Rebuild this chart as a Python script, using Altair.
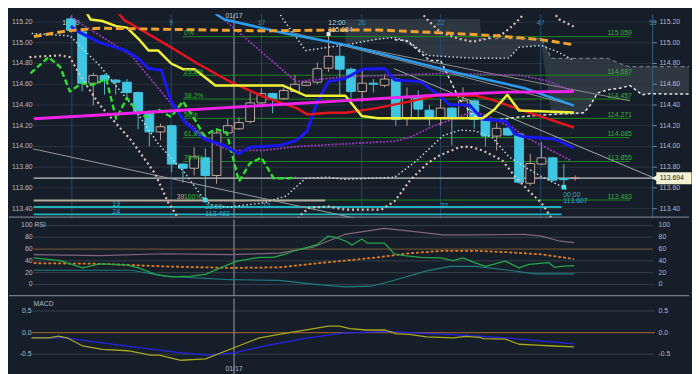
import altair as alt
import pandas as pd

BG = "#151e29"
FONT = "Liberation Sans"

# ---------------- candles (index 0..45) ----------------
candle_idx = list(range(46))
opens = [115.23, 115.105, 114.61, 114.685, 114.64, 114.62, 114.52, 114.32, 114.14, 114.20,
         113.83, 113.79, 113.89, 113.72, 114.13, 114.17, 114.24, 114.42, 114.51, 114.46,
         114.53, 114.59, 114.62, 114.755, 114.87, 114.745, 114.53, 114.61, 114.59, 114.65,
         114.27, 114.48, 114.35, 114.27, 114.37, 114.28, 114.44, 114.25, 114.10, 114.175,
         114.12, 113.645, 113.83, 113.89, 113.69, 113.694]
highs = [115.25, 115.12, 114.71, 114.70, 114.65, 114.65, 114.53, 114.35, 114.22, 114.21,
         113.84, 113.99, 113.98, 114.15, 114.27, 114.28, 114.52, 114.56, 114.52, 114.57,
         114.69, 114.63, 114.81, 115.084, 114.98, 114.76, 114.75, 114.65, 114.70, 114.66,
         114.57, 114.54, 114.40, 114.46, 114.38, 114.57, 114.45, 114.26, 114.23, 114.19,
         114.13, 113.93, 114.04, 113.90, 113.83, 113.72]
lows = [115.10, 114.53, 114.395, 114.50, 114.50, 114.47, 114.165, 114.00, 114.06, 113.75,
        113.65, 113.72, 113.483, 113.64, 114.11, 114.16, 114.22, 114.40, 114.32, 114.45,
        114.52, 114.58, 114.60, 114.72, 114.48, 114.45, 114.43, 114.52, 114.57, 114.20,
        114.20, 114.26, 114.20, 114.20, 114.01, 114.26, 114.17, 114.00, 113.96, 114.10,
        113.64, 113.62, 113.82, 113.66, 113.607, 113.67]
closes = [115.12, 114.61, 114.685, 114.64, 114.62, 114.52, 114.32, 114.14, 114.19, 113.83,
          113.79, 113.90, 113.72, 114.13, 114.20, 114.23, 114.42, 114.51, 114.46, 114.54,
          114.60, 114.62, 114.75, 114.87, 114.745, 114.53, 114.61, 114.60, 114.65, 114.26,
          114.47, 114.36, 114.27, 114.37, 114.27, 114.44, 114.26, 114.10, 114.175, 114.11,
          113.655, 113.835, 113.89, 113.675, 113.68, 113.694]

# ---------------- overlay lines (x = candle index, y = price) ----------------
orange_i = [-3.3, -0.35, 2.5, 11.3, 17.1, 24.5, 27.4, 33.2, 37.6, 42.0, 44.9]
orange_v = [115.06, 115.115, 115.14, 115.125, 115.115, 115.124, 115.124, 115.095, 115.07, 115.03, 114.98]
red_i = [4.2, 4.75, 6.93, 8.95, 11.3, 14.2, 17.2, 20.1, 21.1, 23.0, 24.5, 27.4, 30.3, 32.6, 36.1, 37.6, 40.5, 44.9]
red_v = [115.29, 115.22, 115.083, 114.956, 114.80, 114.625, 114.48, 114.372, 114.309, 114.325, 114.325,
         114.372, 114.435, 114.49, 114.49, 114.45, 114.34, 114.183]
yellow_i = [1.4, 1.75, 2.8, 4.04, 5.0, 6.05, 6.93, 7.8, 8.95, 10.0, 11.05, 11.9, 12.9, 18.95, 20.96, 24.5,
            25.96, 27.4, 36.75, 37.8, 38.95, 40.0, 44.9]
yellow_v = [115.29, 115.225, 115.21, 115.16, 115.146, 115.036, 114.925, 114.925, 114.8, 114.745, 114.745,
            114.672, 114.587, 114.587, 114.489, 114.489, 114.293, 114.272, 114.272, 114.356, 114.499, 114.347, 114.328]
blue_i = [0.0, 0.53, 2.54, 4.9, 6.05, 6.93, 8.07, 8.95, 10.2, 11.9, 13.7, 15.0, 15.96, 18.6, 20.1, 21.1, 22.0,
          23.0, 24.5, 25.96, 28.0, 28.9, 31.2, 32.6, 33.8, 35.6, 36.75, 38.8, 39.65, 40.4, 43.2, 44.9]
blue_v = [115.16, 115.115, 115.004, 114.925, 114.846, 114.752, 114.736, 114.435, 114.23, 114.072, 114.009,
          113.93, 113.993, 114.009, 114.056, 114.151, 114.435, 114.625, 114.657, 114.745, 114.752, 114.641,
          114.625, 114.514, 114.404, 114.397, 114.262, 114.246, 114.119, 114.094, 114.072, 113.984]
lightblue_i = [12.9, 13.7, 19.2, 24.5, 28.9, 34.7, 40.5, 44.9]
lightblue_v = [115.28, 115.225, 115.09, 114.98, 114.862, 114.704, 114.562, 114.394]
magenta_i = [-3.3, 8.4, 24.5, 33.2, 39.1, 44.9]
magenta_v = [114.268, 114.34, 114.442, 114.499, 114.524, 114.53]
lagging_i = [-3.6, -2.0, -0.96, -0.09, 0.96, 1.93, 3.16, 4.04, 5.0, 6.05, 6.75, 7.8, 8.95, 10.0, 11.05, 11.9,
             12.9, 13.9, 15.0, 15.96, 17.0, 18.1, 19.5, 20.1]
lagging_v = [114.704, 114.862, 114.767, 114.53, 114.609, 114.593, 114.65, 114.268, 114.467, 114.325, 114.283,
             114.356, 114.283, 114.435, 114.262, 114.103, 114.167, 114.135, 113.662, 113.835, 113.892, 113.693,
             113.693, 113.70]
pink_lo_i = [-3.7, -0.96, -0.09, 0.8, 2.54, 5.4, 7.5, 8.7, 9.3, 10.5, 19.5, 20.4, 21.3, 23.0, 24.5, 27.7, 28.9,
             30.3, 31.8, 32.9, 34.7, 35.6, 36.75, 38.5, 39.65, 40.9, 42.0, 42.6, 43.5]
pink_lo_v = [114.862, 114.878, 114.862, 114.688, 114.404, 114.056, 113.74, 113.456, 113.36, 113.1, 113.1,
             113.33, 113.41, 113.42, 113.39, 113.39, 113.472, 113.677, 113.835, 113.914, 113.993, 113.999,
             113.961, 113.866, 113.709, 113.567, 113.456, 113.36, 113.2]
pink_up_i = [31.2, 31.8, 33.0, 34.7, 35.9, 37.0, 38.5, 39.4, 40.0, 40.6, 43.0, 43.6, 44.9]
pink_up_v = [115.30, 115.225, 115.10, 115.036, 115.01, 115.036, 115.083, 115.162, 115.225, 115.30, 115.30,
             115.225, 115.155]
white_lo_i = [-3.5, -0.09, 2.54, 5.4, 7.8, 10.2, 12.0, 12.8, 14.2, 17.2, 19.2, 20.96, 23.0, 24.5, 28.9, 30.9,
              33.2, 34.7, 36.1, 37.6, 39.1, 40.5, 42.0, 43.5, 44.4]
white_lo_v = [115.09, 115.067, 114.783, 114.404, 114.025, 113.74, 113.472, 113.427, 113.415, 113.456, 113.522,
              113.693, 113.703, 113.683, 113.703, 113.866, 114.103, 114.157, 114.15, 114.088, 113.899, 113.804,
              113.709, 113.63, 113.582]
white_up_i = [18.0, 18.95, 20.96, 23.0, 24.5, 27.4, 28.9, 30.3, 31.8, 36.1, 39.1, 40.0, 42.0, 43.5, 44.9]
white_up_v = [115.40, 115.225, 114.925, 114.957, 114.98, 115.036, 115.05, 115.0, 114.878, 114.85, 114.852,
              114.957, 114.973, 114.91, 114.83]
white_fw_i = [28.9, 30.0, 32.0, 33.0, 34.7, 35.9, 36.75, 37.5, 40.5, 42.9, 45.8, 46.4, 47.0, 47.9, 49.0, 49.9,
              51.0, 51.7, 53.7, 55.2]
white_fw_v = [115.03, 115.02, 114.83, 114.83, 114.45, 114.30, 114.26, 114.25, 114.29, 114.309, 114.325, 114.404,
              114.514, 114.546, 114.562, 114.587, 114.499, 114.51, 114.505, 114.505]
purple_up_i = [13.0, 13.7, 20.1, 24.5, 33.2, 40.0, 42.6, 44.9]
purple_up_v = [115.28, 115.22, 114.625, 114.672, 114.704, 114.688, 114.631, 114.524]
purple_lo_i = [0.0, 0.53, 5.4, 10.2, 12.8, 14.2, 17.2, 20.1, 24.5, 28.9, 30.3, 32.4, 34.1, 35.9, 37.0, 39.4,
               40.9, 44.6]
purple_lo_v = [115.26, 115.21, 114.878, 114.246, 114.025, 113.962, 113.962, 113.999, 114.025, 114.05, 114.09,
               114.2, 114.262, 114.34, 114.30, 114.183, 114.072, 113.866]
cloud_i = [24.5, 28.9, 31.8, 36.5, 36.6, 39.1, 40.0, 42.0, 42.9, 44.9, 45.8, 46.4, 47.0, 47.9, 49.0, 49.8, 49.9,
           51.0, 51.7, 55.2]
cloud_top = [115.23, 115.23, 115.23, 115.23, 115.04, 115.04, 115.04, 115.04, 114.85, 114.85, 114.85, 114.85,
             114.85, 114.85, 114.80, 114.77, 114.77, 114.77, 114.77, 114.77]
cloud_bot = [114.98, 115.05, 114.878, 114.85, 114.85, 114.852, 114.957, 114.973, 114.309, 114.30, 114.325,
             114.404, 114.514, 114.546, 114.562, 114.585, 114.587, 114.499, 114.51, 114.505]
diag_a_i, diag_a_v = [-3.4, 27.0], [113.977, 113.27]
diag_b_i, diag_b_v = [19.2, 44.6], [115.115, 114.404]
diag_c_i, diag_c_v = [24.5, 49.9], [114.98, 114.44]
diag_d_i, diag_d_v = [28.86, 52.1], [114.75, 113.694]

fib_levels = [115.059, 114.687, 114.457, 114.271, 114.085, 113.855, 113.483]
fib_pct = ["0%", "23.6%", "38.2%", "50%", "61.8%", "76.4%", "100%"]
fib_right = ["115.059", "114.687", "114.457", "114.271", "114.085", "113.855", "113.483"]
price_ticks = [115.2, 115.0, 114.8, 114.6, 114.4, 114.2, 114.0, 113.8, 113.6, 113.4]
price_tick_labels = ["115.20", "115.00", "114.80", "114.60", "114.40", "114.20", "114.00", "113.80", "113.60", "113.40"]
last_price = 113.694
vline_idx = [0.09, 8.95, 17.02, 25.96, 32.98, 41.93]
vline_labels = ["", "9", "17", "26", "22", "47"]
date_idx = 14.56
axis_idx = 51.93

# ---------------- RSI panel ----------------
rsi_i = [-3.33, -0.96, 1.05, 2.54, 4.91, 6.05, 7.54, 8.95, 10.70, 12.02, 13.33, 14.82, 16.84, 18.07, 19.21,
         20.09, 21.14, 22.02, 22.98, 23.6, 24.47, 25.09, 25.96, 26.49, 27.98, 28.86, 29.74, 31.23, 32.98, 34.12,
         35.0, 36.14, 37.02, 38.77, 40.0, 40.88, 42.63, 43.16, 43.77, 44.91]
rsi_v = [45, 40.5, 28, 35, 33, 28, 17, 13, 14, 17, 28, 39.5, 46, 46, 52, 58, 63, 68, 82, 80, 74, 67, 77, 70, 70,
         52, 49, 46, 45, 40.5, 45, 36, 30.5, 39.5, 28, 34, 37, 29, 30.5, 32]
rsi_ma_i = [-3.33, 2.54, 8.42, 14.21, 18.6, 21.6, 24.47, 27.4, 30.3, 33.2, 36.1, 39.1, 42.0, 44.91]
rsi_ma_v = [36, 35, 30.5, 28, 29, 35, 40.5, 46, 53, 57, 57, 54.5, 51, 43]
rsi_up_i = [-3.33, 2.54, 8.42, 14.21, 18.6, 21.6, 24.47, 27.98, 30.3, 33.2, 36.1, 40.5, 42.0, 43.5, 44.91]
rsi_up_v = [50.5, 49, 52, 50.5, 53, 63, 85, 95, 90.5, 84, 84, 85, 82, 74, 71]
rsi_lo_i = [-3.33, 5.4, 8.42, 14.21, 18.6, 21.6, 24.47, 26.8, 28.86, 31.75, 33.85, 36.1, 39.1, 41.4, 44.91]
rsi_lo_v = [24, 24, 14, 8, 7, 0.5, -4, -3, 7, 23, 30.5, 30.5, 24, 18, 18]
rsi_ticks = [100, 80, 60, 40, 20, 0]

# ---------------- MACD panel ----------------
macd_i = [-3.51, -1.93, -1.14, -0.35, 1.05, 2.81, 5.09, 7.11, 7.89, 9.82, 12.02, 14.56, 16.84, 19.21, 21.14,
          22.98, 23.95, 24.91, 26.32, 28.07, 29.04, 30.18, 31.75, 34.12, 35.26, 36.49, 36.84, 38.77, 40.0, 41.58,
          43.07, 44.91]
macd_v = [-0.12, -0.12, -0.08, -0.12, -0.31, -0.39, -0.42, -0.52, -0.52, -0.64, -0.61, -0.35, -0.12, -0.01, 0.07,
          0.15, 0.15, 0.09, 0.06, 0.06, -0.03, -0.04, -0.10, -0.12, -0.09, -0.11, -0.14, -0.15, -0.27, -0.29,
          -0.31, -0.33]
signal_i = [-3.51, -0.35, 1.58, 5.53, 9.47, 12.19, 14.56, 17.28, 21.14, 24.3, 28.25, 30.96, 34.91, 38.77, 44.91]
signal_v = [-0.12, -0.12, -0.2, -0.33, -0.46, -0.52, -0.47, -0.31, -0.12, -0.01, 0.03, -0.01, -0.06, -0.12, -0.26]
macd_ticks = [0.5, 0.0, -0.5]
macd_tick_labels = ["0.5", "0.0", "-0.5"]

# ---------------- layout ----------------
W = 692
H_MAIN, H_RSI, H_MACD = 207, 78, 81
X_DOMAIN = [-5.526, 55.175]
MAIN_DOM = [113.3137, 115.2758]
RSI_DOM = [-20, 110]
MACD_DOM = [-1.0455, 0.7955]
GRID = "#29343f"
LBL = "#b4bcc4"


def xenc(field="i"):
    return alt.X(f"{field}:Q", scale=alt.Scale(domain=X_DOMAIN, nice=False, zero=False), axis=None)


def yenc(field, dom):
    return alt.Y(f"{field}:Q", scale=alt.Scale(domain=dom, nice=False, zero=False), axis=None)


def series(xv, yv, dom, color, width, dash=None, opacity=1.0):
    df = pd.DataFrame({"i": xv, "v": yv, "k": list(range(len(xv)))})
    props = dict(color=color, strokeWidth=width, clip=True, opacity=opacity, strokeJoin="round")
    if dash is not None:
        props["strokeDash"] = dash
    return alt.Chart(df).mark_line(**props).encode(x=xenc(), y=yenc("v", dom), order="k:Q")


def hrules(levels, x0, x1, dom, color, width, dash=None):
    df = pd.DataFrame({"v": levels, "x0": [x0] * len(levels), "x1": [x1] * len(levels)})
    props = dict(color=color, strokeWidth=width, clip=True)
    if dash is not None:
        props["strokeDash"] = dash
    return alt.Chart(df).mark_rule(**props).encode(x=xenc("x0"), x2=alt.X2("x1:Q"), y=yenc("v", dom))


def vrules(pos, color, width):
    df = pd.DataFrame({"i": pos})
    return alt.Chart(df).mark_rule(color=color, strokeWidth=width).encode(x=xenc())


def texts(xv, yv, labels, dom, color, size=7, align="left", baseline="middle", dy=0):
    df = pd.DataFrame({"i": xv, "v": yv, "t": labels})
    return alt.Chart(df).mark_text(color=color, fontSize=size, font=FONT, align=align,
                                   baseline=baseline, dy=dy).encode(x=xenc(), y=yenc("v", dom), text="t:N")


def axis_text(values, labels, dom, xpix, align, color=LBL, size=7):
    df = pd.DataFrame({"v": values, "t": labels})
    return alt.Chart(df).mark_text(color=color, fontSize=size, font=FONT, align=align,
                                   baseline="middle").encode(x=alt.value(xpix), y=yenc("v", dom), text="t:N")


def separator(h):
    df = pd.DataFrame({"a": [0]})
    return alt.Chart(df).mark_rule(color="#8d98a3", strokeWidth=1).encode(
        x=alt.value(0), x2=alt.value(W), y=alt.value(h - 0.5))


# ---------------- main panel ----------------
cd = pd.DataFrame({"i": candle_idx, "o": opens, "h": highs, "l": lows, "c": closes})
cd["lo"] = cd[["o", "c"]].min(axis=1)
cd["hi"] = cd[["o", "c"]].max(axis=1)
cd["xl"] = cd["i"] - 0.39
cd["xr"] = cd["i"] + 0.39
bear = cd[cd.c < cd.o]
bull = cd[cd.c >= cd.o]

wick_bear = alt.Chart(bear).mark_rule(color="#5fb4cc", strokeWidth=1).encode(
    x=xenc(), y=yenc("l", MAIN_DOM), y2=alt.Y2("h:Q"))
wick_bull = alt.Chart(bull).mark_rule(color="#b89c94", strokeWidth=1).encode(
    x=xenc(), y=yenc("l", MAIN_DOM), y2=alt.Y2("h:Q"))
body_bear = alt.Chart(bear).mark_rect(fill="#3fc6e2", stroke="#3fc6e2", strokeWidth=1).encode(
    x=xenc("xl"), x2=alt.X2("xr:Q"), y=yenc("lo", MAIN_DOM), y2=alt.Y2("hi:Q"))
body_bull = alt.Chart(bull).mark_rect(fill=BG, stroke="#c6a69c", strokeWidth=1).encode(
    x=xenc("xl"), x2=alt.X2("xr:Q"), y=yenc("lo", MAIN_DOM), y2=alt.Y2("hi:Q"))

cloud_df = pd.DataFrame({"i": cloud_i, "u": cloud_top, "b": cloud_bot})
cloud = alt.Chart(cloud_df).mark_area(color="#56606b", opacity=0.4, clip=True).encode(
    x=xenc(), y=yenc("u", MAIN_DOM), y2=alt.Y2("b:Q"))

markers_cyan = alt.Chart(pd.DataFrame({"i": [12, 44], "v": [lows[12], lows[44]]})).mark_square(
    size=22, color="#44e0e8", opacity=1).encode(x=xenc(), y=yenc("v", MAIN_DOM))
marker_high = alt.Chart(pd.DataFrame({"i": [23], "v": [highs[23]]})).mark_square(
    size=16, color="#e8e8e8", opacity=1).encode(x=xenc(), y=yenc("v", MAIN_DOM))

tag = alt.Chart(pd.DataFrame({"x0": [52.25], "x1": [55.4], "y0": [last_price - 0.058],
                              "y1": [last_price + 0.058]})).mark_rect(fill="#f3f1d2").encode(
    x=xenc("x0"), x2=alt.X2("x1:Q"), y=yenc("y0", MAIN_DOM), y2=alt.Y2("y1:Q"))
tag_tip = alt.Chart(pd.DataFrame({"i": [52.1], "v": [last_price]})).mark_point(
    shape="triangle-left", filled=True, size=40, color="#f3f1d2", opacity=1).encode(
    x=xenc(), y=yenc("v", MAIN_DOM))
tag_text = texts([52.55], [last_price], ["113.694"], MAIN_DOM, "#1a1a1a", 7)

main_layers = [
    cloud,
    hrules(price_ticks, -3.33, 51.93, MAIN_DOM, GRID, 1),
    vrules(vline_idx, "#27486a", 1),
    vrules([axis_idx], "#31628c", 1),
    vrules([date_idx], "#9aa2aa", 1),
    hrules(fib_levels, 10.0, 49.9, MAIN_DOM, "#1d8a1d", 1),
    hrules([113.478], -3.33, 22.7, MAIN_DOM, "#b3a99c", 2),
    hrules([113.415, 113.345], -3.33, 43.8, MAIN_DOM, "#22b2ba", 2),
    hrules([last_price], -3.33, 52.1, MAIN_DOM, "#c4c4c4", 1.2),
    hrules(price_ticks, 51.93, 52.3, MAIN_DOM, "#7d8a96", 1),
    texts(vline_idx, [115.19] * len(vline_idx), vline_labels, MAIN_DOM, "#3a86aa", 7, align="center"),
    texts([axis_idx], [115.19], ["53"], MAIN_DOM, "#3a86aa", 7, align="center"),
    texts([0.0], [115.19], ["15:00"], MAIN_DOM, "#c8ced4", 7, align="center"),
    wick_bear, wick_bull, body_bear, body_bull,
    series(diag_a_i, diag_a_v, MAIN_DOM, "#9a9a9a", 1),
    series(diag_b_i, diag_b_v, MAIN_DOM, "#8c8c8c", 1),
    series(diag_c_i, diag_c_v, MAIN_DOM, "#8c8c8c", 1),
    series(diag_d_i, diag_d_v, MAIN_DOM, "#a8a8a8", 1),
    series(cloud_i[4:], cloud_top[4:], MAIN_DOM, "#6e7680", 1.2, dash=[4, 3]),
    series(pink_lo_i, pink_lo_v, MAIN_DOM, "#e6c0b6", 2.2, dash=[2, 3]),
    series(pink_up_i, pink_up_v, MAIN_DOM, "#e6c0b6", 2.2, dash=[2, 3]),
    series(white_lo_i, white_lo_v, MAIN_DOM, "#c6dce4", 1.5, dash=[1.5, 2.5]),
    series(white_up_i, white_up_v, MAIN_DOM, "#c6dce4", 1.5, dash=[1.5, 2.5]),
    series(white_fw_i, white_fw_v, MAIN_DOM, "#e4e4e4", 1.5, dash=[3, 2.5]),
    series(purple_up_i, purple_up_v, MAIN_DOM, "#9c36b8", 1.8, dash=[2, 1.5]),
    series(purple_lo_i, purple_lo_v, MAIN_DOM, "#9c36b8", 1.8, dash=[2, 1.5]),
    series(lagging_i, lagging_v, MAIN_DOM, "#2fe02f", 2.4, dash=[6, 3]),
    series(blue_i, blue_v, MAIN_DOM, "#1818f2", 3),
    series(lightblue_i, lightblue_v, MAIN_DOM, "#2a9ef2", 2.5),
    series(red_i, red_v, MAIN_DOM, "#e3141c", 2.5),
    series(yellow_i, yellow_v, MAIN_DOM, "#f2f232", 2.5),
    series(magenta_i, magenta_v, MAIN_DOM, "#f222ea", 3),
    series(orange_i, orange_v, MAIN_DOM, "#f2a22c", 3, dash=[8, 4]),
    markers_cyan, marker_high,
    texts([10.09] * 7, fib_levels, fib_pct, MAIN_DOM, "#38b438", 7, baseline="bottom", dy=-0.5),
    texts([47.9] * 7, fib_levels, fib_right, MAIN_DOM, "#38b438", 7, baseline="bottom", dy=-0.5),
    texts([9.45], [113.483], ["39"], MAIN_DOM, "#c0b0a0", 7, baseline="bottom", dy=-0.5),
    texts([14.56], [115.257], ["01/17"], MAIN_DOM, "#c4c8cc", 7, align="center"),
    texts([22.98, 22.98], [115.19, 115.124], ["12:00", "115.084"], MAIN_DOM, "#d4d4d4", 7),
    texts([4.04, 4.04, 17.46, 33.3], [113.44, 113.37, 113.43, 113.43], ["19", "24", "12", "22"],
          MAIN_DOM, "#3cb4c6", 7, align="center"),
    texts([12.0, 12.0], [113.418, 113.352], ["20:00", "113.483"], MAIN_DOM, "#3cb0c4", 7),
    texts([43.95, 43.95], [113.535, 113.472], ["00:00", "113.607"], MAIN_DOM, "#3ca8cc", 7),
    axis_text(price_ticks, price_tick_labels, MAIN_DOM, 24, "right"),
    axis_text(price_ticks, price_tick_labels, MAIN_DOM, 662, "left"),
    tag, tag_tip, tag_text,
    separator(H_MAIN),
]
main = alt.layer(*main_layers).properties(width=W, height=H_MAIN)

# ---------------- RSI panel ----------------
rsi_layers = [
    hrules([100, 80, 40, 20, 0], -3.33, 51.93, RSI_DOM, "#36414c", 1),
    hrules([60], -3.33, 51.93, RSI_DOM, "#6a4e30", 1.2),
    vrules([date_idx], "#9aa2aa", 1),
    series(rsi_up_i, rsi_up_v, RSI_DOM, "#84647e", 1.2),
    series(rsi_lo_i, rsi_lo_v, RSI_DOM, "#1d7c80", 1.2),
    series(rsi_ma_i, rsi_ma_v, RSI_DOM, "#e07c22", 1.8, dash=[3, 2]),
    series(rsi_i, rsi_v, RSI_DOM, "#22a846", 1.3),
    axis_text(rsi_ticks, [str(t) for t in rsi_ticks], RSI_DOM, 24, "right"),
    axis_text([100], ["RSI"], RSI_DOM, 26, "left"),
    axis_text(rsi_ticks, [str(t) for t in rsi_ticks], RSI_DOM, 661, "left"),
    separator(H_RSI),
]
rsi = alt.layer(*rsi_layers).properties(width=W, height=H_RSI)

# ---------------- MACD panel ----------------
macd_layers = [
    hrules([0.5, -0.5], -3.51, 52.1, MACD_DOM, "#36414c", 1),
    hrules([0.0], -3.51, 52.1, MACD_DOM, "#8c5a2c", 1.2),
    vrules([date_idx], "#9aa2aa", 1),
    series(signal_i, signal_v, MACD_DOM, "#2424e6", 1.3),
    series(macd_i, macd_v, MACD_DOM, "#aaa81a", 1.3),
    axis_text(macd_ticks, macd_tick_labels, MACD_DOM, 23, "right"),
    axis_text(macd_ticks, macd_tick_labels, MACD_DOM, 661, "left"),
    axis_text([0.66], ["MACD"], MACD_DOM, 25, "left"),
    texts([date_idx], [-0.84], ["01/17"], MACD_DOM, "#b4bcc4", 7, align="center"),
]
macd = alt.layer(*macd_layers).properties(width=W, height=H_MACD)

chart = alt.vconcat(main, rsi, macd, spacing=0).properties(
    background=BG, padding=0
).configure_view(strokeOpacity=0)

chart.save("out.html", embed_options={"renderer": "svg", "actions": False})
